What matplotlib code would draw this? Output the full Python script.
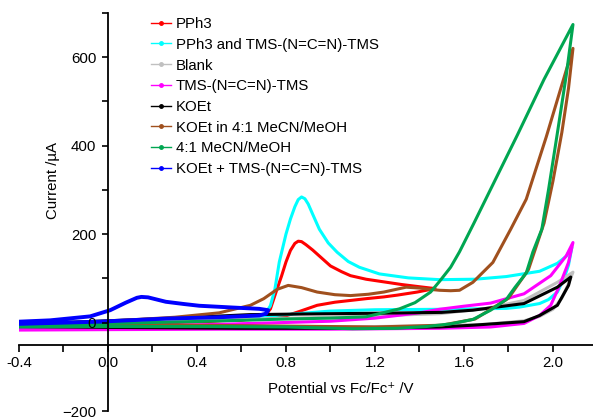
import numpy as np
import matplotlib
matplotlib.use("Agg")
import matplotlib.pyplot as plt
from matplotlib.lines import Line2D

plt.rcParams['font.family'] = ['Liberation Sans', 'DejaVu Sans']

# --- data (potential in V, current in uA), each a closed scan
pph3_x = [-0.4, 0.0, 0.4, 0.6, 0.68, 0.71, 0.73, 0.76, 0.78, 0.80, 0.82, 0.84, 0.855, 0.87, 0.89, 0.92, 0.96, 1.0,
          1.05, 1.09, 1.16, 1.24, 1.32, 1.40, 1.45, 1.47,
          1.45, 1.39, 1.30, 1.24, 1.16, 1.09, 1.02, 0.94, 0.90, 0.86, 0.83, 0.78, 0.7, 0.4, 0.0, -0.4]
pph3_y = [-6, -2, 3, 6, 10, 18, 31, 76, 105, 137, 163, 179, 184, 183, 176, 164, 146, 128,
          115, 106, 98, 92, 86, 81, 78, 77,
          75, 69, 62, 58, 54, 50, 46, 39, 32, 25, 20, 12, 8, 2, -4, -8]

pph3_tms_x = [-0.4, 0.0, 0.4, 0.6, 0.70, 0.73, 0.75, 0.77, 0.80, 0.82, 0.84, 0.855, 0.87, 0.885, 0.90, 0.92, 0.95,
              0.99, 1.03, 1.08, 1.13, 1.22, 1.35, 1.49, 1.65, 1.79, 1.94, 2.02, 2.06, 2.085,
              2.07, 2.05, 2.02, 1.98, 1.94, 1.85, 1.79, 1.5, 1.2, 1.0, 0.9, 0.8, 0.6, 0.3, 0.0, -0.4]
pph3_tms_y = [-5, 0, 5, 9, 15, 38, 75, 137, 200, 234, 262, 278, 284, 280, 268, 245, 211,
              180, 159, 138, 125, 110, 101, 97, 98, 104, 116, 134, 150, 170,
              130, 100, 69, 52, 43, 35, 32, 30, 29, 26, 22, 18, 10, 3, -3, -8]

blank_x = [-0.4, 0.0, 0.5, 1.0, 1.49, 1.7, 1.87, 2.02, 2.09,
           2.07, 2.04, 2.0, 1.94, 1.87, 1.7, 1.4, 1.0, 0.5, 0.0, -0.4]
blank_y = [-4, 0, 6, 12, 20, 32, 50, 91, 114,
           88, 55, 30, 14, 4, -4, -8, -10, -11, -11, -12]

tms_x = [-0.4, 0.0, 0.5, 1.0, 1.2, 1.4, 1.49, 1.6, 1.72, 1.87, 1.99, 2.06, 2.09,
         2.07, 2.03, 1.99, 1.94, 1.87, 1.72, 1.49, 1.0, 0.5, 0.0, -0.4]
tms_y = [-13, -9, -4, 3, 10, 22, 30, 37, 44, 65, 106, 151, 181,
         136, 84, 39, 16, -2, -10, -13, -15, -15, -16, -17]

koet_x = [-0.4, -0.1, 0.3, 0.64, 1.0, 1.2, 1.5, 1.64, 1.87, 2.02, 2.08,
          2.07, 2.02, 1.94, 1.87, 1.64, 1.49, 1.1, 0.6, 0.0, -0.4]
koet_y = [-3, 2, 10, 18, 20, 21, 23, 28, 43, 80, 103,
          84, 39, 16, 2, -6, -10, -13, -13, -11, -9]

koet_mix_x = [-0.4, 0.0, 0.3, 0.5, 0.64, 0.70, 0.76, 0.81, 0.87, 0.94, 1.02, 1.09, 1.17, 1.24, 1.34,
              1.40, 1.45, 1.49, 1.54, 1.58, 1.64, 1.73, 1.81, 1.88, 1.97, 2.06, 2.09,
              2.07, 2.04, 2.0, 1.96, 1.92, 1.89, 1.80, 1.65, 1.5, 1.2, 0.8, 0.4, 0.0, -0.4]
koet_mix_y = [-5, 3, 12, 22, 39, 54, 75, 84, 79, 69, 63, 61, 64, 69, 80,
              78, 75, 73, 72, 73, 91, 136, 211, 279, 420, 571, 620,
              530, 430, 320, 225, 165, 120, 55, 8, -6, -10, -8, -6, -5, -6]

mix_x = [-0.4, 0.0, 0.45, 0.8, 1.0, 1.16, 1.31, 1.38, 1.45, 1.49, 1.54, 1.58, 1.62, 1.645, 1.74, 1.84, 1.96, 2.09,
         2.06, 2.02, 1.98, 1.95, 1.91, 1.88, 1.83, 1.79, 1.72, 1.64, 1.54, 1.43, 1.3, 1.1, 0.8, 0.45, 0.0, -0.4]
mix_y = [-8, -2, 3, 8, 10, 13, 31, 45, 69, 93, 125, 160, 200, 225, 322, 424, 550, 674,
         560, 429, 300, 211, 160, 112, 80, 52, 28, 7, -3, -9, -13, -14, -10, -9, -9, -10]

koet_tms_x = [-0.4, -0.26, -0.08, 0.01, 0.08, 0.13, 0.15, 0.18, 0.22, 0.26, 0.34, 0.41, 0.56, 0.68, 0.72,
              0.71, 0.68, 0.5, 0.26, -0.04, -0.4]
koet_tms_y = [2, 5, 14, 28, 45, 56, 58, 57, 52, 47, 42, 38, 34, 31, 28,
              20, 16, 12, 9, 2, -3]

labels = ["PPh3", "PPh3 and TMS-(N=C=N)-TMS", "Blank", "TMS-(N=C=N)-TMS", "KOEt",
          "KOEt in 4:1 MeCN/MeOH", "4:1 MeCN/MeOH", "KOEt + TMS-(N=C=N)-TMS"]
colors = ["#FF0000", "#00FFFF", "#C0C0C0", "#FF00FF", "#000000", "#A0501E", "#00A651", "#0000FF"]

series = [(pph3_x, pph3_y), (pph3_tms_x, pph3_tms_y), (blank_x, blank_y), (tms_x, tms_y),
          (koet_x, koet_y), (koet_mix_x, koet_mix_y), (mix_x, mix_y), (koet_tms_x, koet_tms_y)]

fig = plt.figure(figsize=(5.93, 4.19), dpi=100)
ax = fig.add_axes([19/593, 8/419, 574/593, 398/419])
ax.set_axisbelow(False)  # tick labels ("0") sit on top of the curves

for (xs, ys), c in zip(series, colors):
    lw = 2.8 if c == "#0000FF" else 2.2
    ax.plot(xs, ys, color=c, lw=lw, solid_joinstyle="round", solid_capstyle="round")

ax.set_xlim(-0.4, 2.18)
ax.set_ylim(-200, 700)

# axes cross like in the spreadsheet: y axis at 0 V, x axis at -50 uA
ax.spines['left'].set_position(('data', 0))
ax.spines['bottom'].set_position(('data', -50))
ax.spines['top'].set_visible(False)
ax.spines['right'].set_visible(False)
for s in ['left', 'bottom']:
    ax.spines[s].set_linewidth(1.3)

ax.set_xticks(np.arange(-0.4, 2.01, 0.4))
ax.set_xticklabels(["%.1f" % v for v in np.arange(-0.4, 2.01, 0.4)])
ax.set_xticks(np.arange(-0.2, 2.19, 0.4), minor=True)
ax.set_yticks([-200, 0, 200, 400, 600])
ax.set_yticks([100, 300, 500, 700], minor=True)

ax.tick_params(axis='both', which='both', direction='out', width=1.2, labelsize=10.8, colors='black')
ax.tick_params(axis='x', which='both', length=5, pad=3)
ax.tick_params(axis='y', which='both', length=4, pad=4.5)

fig.text(53/593, 1 - 180/419, "Current /\u00b5A", rotation=90, ha='center', va='center', fontsize=10.8)
fig.text(341/593, 1 - 389/419, "Potential vs Fc/Fc\u207a /V", ha='center', va='center', fontsize=10.8)

handles = [Line2D([], [], color=c, lw=1.0, marker='o', markersize=2.5) for c in colors]
ax.legend(handles, labels, loc='upper left', bbox_to_anchor=(151/593, 1 - 17/419),
          bbox_transform=fig.transFigure, frameon=False, fontsize=10.8,
          handlelength=1.35, handletextpad=0.3, labelspacing=0.45, borderpad=0, borderaxespad=0)

fig.savefig("out.png", dpi=100)
